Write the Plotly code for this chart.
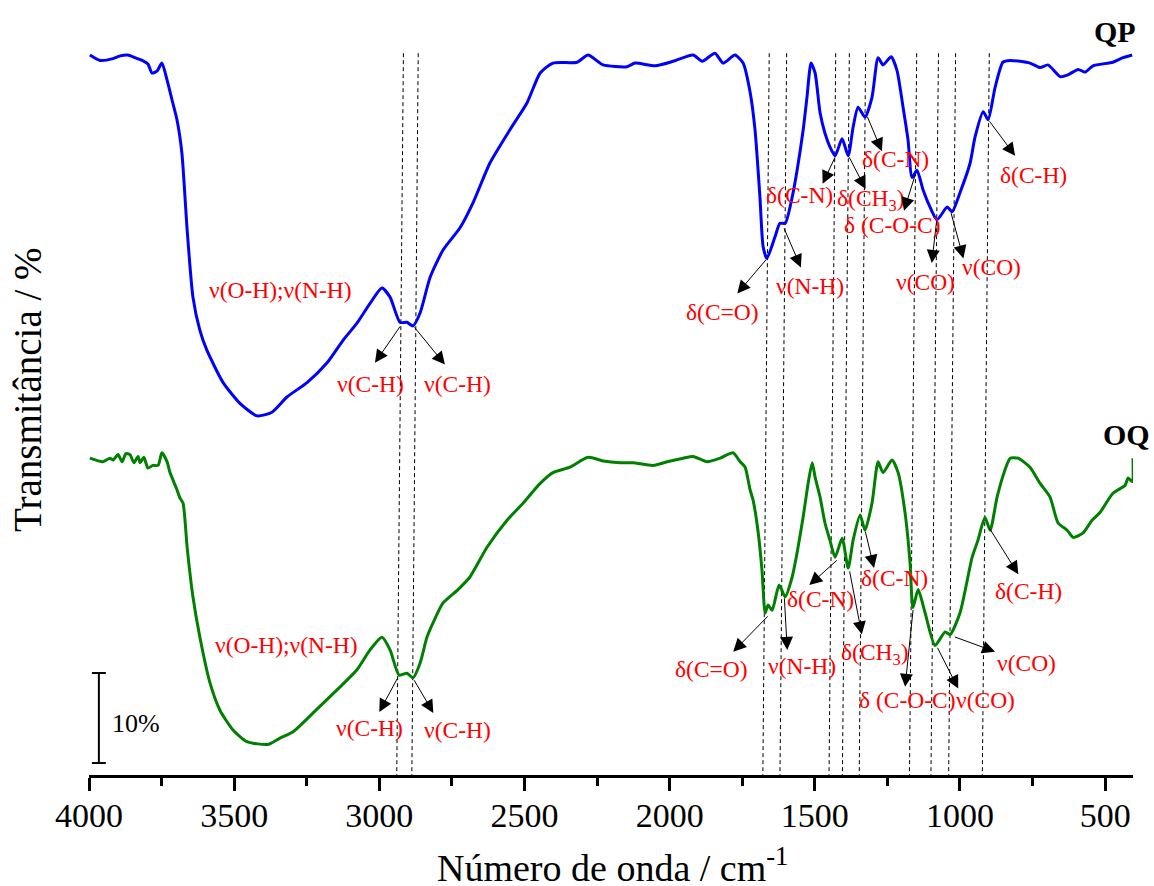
import plotly.graph_objects as go

# ---------------- data (wavenumber cm-1, transmittance % with vertical offset) -------------
qp_wn = [3997, 3962, 3917, 3893, 3866, 3842, 3817, 3797, 3783, 3766, 3749, 3731, 3714, 3697,
         3680, 3662, 3642, 3618, 3594, 3538, 3480, 3421, 3370, 3318, 3249, 3180, 3125, 3077,
         3032, 2991, 2963, 2929, 2905, 2884, 2860, 2825, 2781, 2722, 2677, 2619, 2550, 2491,
         2446, 2402, 2319, 2281, 2229, 2147, 2119, 2050, 1988, 1919, 1888, 1844, 1816, 1775,
         1747, 1723, 1706, 1689, 1678, 1665, 1637, 1620, 1602, 1578, 1561, 1540, 1527, 1513,
         1499, 1482, 1465, 1448, 1430, 1406, 1385, 1368, 1351, 1327, 1303, 1282, 1265, 1237,
         1217, 1196, 1179, 1165, 1148, 1127, 1103, 1079, 1044, 1027, 1000, 965, 948, 920, 903,
         879, 852, 827, 759, 724, 697, 655, 628, 593, 569, 542, 473, 438, 407]
qp_t = [80.0, 79.4, 79.6, 79.9, 80.0, 79.7, 79.4, 79.0, 78.0, 78.2, 79.1, 77.2, 75.0, 72.8,
        69.1, 60.6, 53.1, 49.4, 47.2, 43.6, 41.3, 39.9, 40.3, 42.0, 43.6, 45.8, 48.3, 50.2,
        52.4, 54.1, 53.1, 50.3, 50.3, 49.9, 51.3, 55.3, 58.3, 60.8, 63.6, 68.0, 71.7, 74.7,
        78.0, 79.1, 79.2, 80.0, 78.9, 78.7, 79.1, 78.8, 79.3, 80.0, 79.3, 80.2, 79.1, 80.0,
        79.1, 75.9, 71.7, 64.2, 58.7, 57.4, 59.8, 61.3, 61.3, 64.2, 67.2, 71.7, 75.3, 79.1,
        78.0, 73.6, 71.3, 69.8, 68.8, 70.7, 68.8, 72.0, 74.2, 73.1, 75.3, 79.7, 78.9, 79.8,
        78.3, 74.2, 70.6, 66.4, 67.2, 65.0, 63.1, 61.7, 63.1, 62.6, 64.7, 68.0, 70.9, 73.7, 72.8,
        76.4, 79.2, 79.4, 79.1, 78.6, 78.9, 77.6, 77.8, 78.4, 78.1, 78.8, 79.2, 79.7, 80.0]

oq_wn = [3997, 3952, 3928, 3917, 3900, 3886, 3873, 3859, 3845, 3831, 3824, 3811, 3797, 3780,
         3762, 3749, 3731, 3721, 3697, 3687, 3676, 3662, 3642, 3618, 3583, 3549, 3504, 3456,
         3383, 3342, 3297, 3228, 3135, 3077, 3032, 2991, 2963, 2932, 2905, 2884, 2860, 2836,
         2815, 2781, 2729, 2688, 2629, 2560, 2505, 2446, 2402, 2343, 2281, 2229, 2171, 2126,
         2057, 2009, 1954, 1919, 1871, 1826, 1782, 1757, 1740, 1723, 1713, 1696, 1682, 1671,
         1661, 1647, 1623, 1602, 1578, 1561, 1540, 1523, 1509, 1499, 1482, 1465, 1448, 1430,
         1406, 1385, 1368, 1344, 1327, 1303, 1282, 1265, 1234, 1213, 1189, 1172, 1162, 1144,
         1120, 1086, 1051, 1034, 1000, 958, 938, 914, 896, 872, 845, 827, 800, 759, 724, 690,
         662, 631, 610, 576, 545, 517, 473, 431, 421, 407, 404]
oq_t = [35.2, 34.8, 35.2, 35.0, 35.6, 34.8, 35.7, 35.6, 34.7, 35.4, 34.7, 35.3, 34.1, 34.4,
        34.4, 35.8, 34.8, 33.6, 31.7, 30.8, 30.2, 25.3, 19.8, 15.3, 10.2, 7.2, 5.0, 3.7,
        3.4, 4.1, 4.8, 6.9, 9.8, 11.7, 13.9, 15.3, 13.9, 11.1, 11.3, 10.8, 12.4, 15.3,
        16.9, 19.1, 20.6, 22.0, 25.3, 28.3, 30.2, 32.4, 33.6, 34.2, 35.3, 34.9, 34.7, 34.7,
        34.4, 34.8, 35.2, 35.4, 34.8, 35.2, 35.8, 34.8, 34.2, 31.7, 30.6, 27.2, 22.8, 18.0,
        18.9, 18.3, 21.1, 19.8, 22.0, 24.7, 28.7, 32.4, 34.7, 33.1, 30.9, 28.0, 26.1, 24.2,
        26.3, 23.0, 26.1, 28.9, 27.2, 30.2, 34.8, 33.6, 35.0, 33.6, 29.1, 23.6, 18.6, 20.6,
        18.0, 14.4, 15.9, 15.6, 18.0, 24.2, 26.1, 28.6, 27.2, 30.9, 33.9, 35.2, 35.2, 34.2, 32.4, 30.9,
        28.0, 27.2, 26.4, 26.9, 28.3, 29.2, 31.3, 32.2, 33.0, 32.6, 35.2]

# peak marker lines (wavenumber at top / at bottom of the plot; they lean slightly)
peak_top = [2917, 2866, 1657, 1597, 1428, 1381, 1325, 1149, 1074, 1015, 899]
peak_bot = [2940, 2888, 1679, 1620, 1451, 1405, 1347, 1174, 1100, 1039, 923]

tick_vals = [4000, 3500, 3000, 2500, 2000, 1500, 1000, 500]
minor_vals = [3750, 3250, 2750, 2250, 1750, 1250, 750]

# band labels: (text, x, y)
qp_labels = [
    ("ν(O-H);ν(N-H)", 3342, 53.9), ("ν(C-H)", 3029, 43.4), ("ν(C-H)", 2732, 43.4),
    ("δ(C=O)", 1818, 51.5), ("ν(N-H)", 1516, 54.3), ("δ(C-N)", 1554, 64.4),
    ("δ(CH<sub>3</sub>)", 1306, 63.9), ("δ(C-N)", 1222, 68.5), ("δ (C-O-C)", 1232, 61.1),
    ("ν(CO)", 1118, 54.8), ("ν(CO)", 890, 56.4), ("δ(C-H)", 748, 66.7),
]
oq_labels = [
    ("ν(O-H);ν(N-H)", 3321, 14.4), ("ν(C-H)", 3035, 5.2), ("ν(C-H)", 2731, 5.0),
    ("δ(C=O)", 1856, 11.8), ("ν(N-H)", 1544, 12.1), ("δ(C-N)", 1482, 19.6),
    ("δ(CH<sub>3</sub>)", 1294, 13.4), ("δ(C-N)", 1227, 21.9), ("δ (C-O-C)", 1182, 8.3),
    ("ν(CO)", 911, 8.3), ("ν(CO)", 772, 12.5), ("δ(C-H)", 765, 20.5),
]
# arrows: (tail x, tail y, head x, head y)
qp_arrows = [
    (2925, 50.0, 3015, 45.8), (2883, 49.9, 2774, 45.6), (1664, 57.4, 1767, 53.5),
    (1608, 60.9, 1548, 56.4), (1428, 68.8, 1473, 65.7), (1384, 68.8, 1325, 65.1),
    (1321, 73.3, 1269, 69.3), (1152, 66.9, 1193, 62.7), (1080, 61.7, 1097, 56.9),
    (1032, 62.6, 988, 57.4), (902, 72.8, 810, 68.8),
]
oq_arrows = [
    (2935, 10.9, 3000, 7.0), (2883, 10.7, 2814, 6.9), (1657, 17.8, 1781, 13.7),
    (1605, 19.8, 1595, 13.9), (1419, 24.0, 1519, 21.1), (1381, 22.8, 1338, 15.6),
    (1327, 27.2, 1296, 23.0), (1161, 18.5, 1189, 9.8), (1080, 14.3, 1006, 9.6),
    (1023, 15.4, 879, 13.7), (902, 27.6, 799, 22.3),
]
series_names = [("QP", 466, 82.6), ("OQ", 428, 37.8)]

scale_x, scale_y0, scale_len = 3966, 1.33, 10

# ---------------- figure ----------------
FONT = "Liberation Serif, Times New Roman, serif"
Y_MAX = 755 / 9.0

fig = go.Figure()
fig.add_trace(go.Scatter(x=qp_wn, y=qp_t, mode="lines",
                         line=dict(color="#0000FF", width=3, shape="spline", smoothing=0.6),
                         hoverinfo="skip", showlegend=False))
fig.add_trace(go.Scatter(x=oq_wn, y=oq_t, mode="lines",
                         line=dict(color="#008000", width=3, shape="spline", smoothing=0.6),
                         hoverinfo="skip", showlegend=False))

shapes = []
for xt, xb in zip(peak_top, peak_bot):
    shapes.append(dict(type="line", xref="x", yref="y", x0=xt, y0=80.2, x1=xb, y1=0,
                       line=dict(color="black", width=1, dash="4px,3px"), layer="below"))
# scale bar
shapes.append(dict(type="line", xref="x", yref="y", x0=scale_x, x1=scale_x,
                   y0=scale_y0, y1=scale_y0 + scale_len, line=dict(color="black", width=2)))
for yy in (scale_y0, scale_y0 + scale_len):
    shapes.append(dict(type="line", xref="x", yref="y", x0=scale_x + 24, x1=scale_x - 24,
                       y0=yy, y1=yy, line=dict(color="black", width=2)))

ann = []
for lab in (qp_labels, oq_labels):
    for t, x, y in lab:
        ann.append(dict(x=x, y=y, xref="x", yref="y", text=t, showarrow=False,
                        font=dict(family=FONT, size=23.5, color="#FF0000"),
                        xanchor="center", yanchor="middle"))
for arr in (qp_arrows, oq_arrows):
    for tx, ty, hx, hy in arr:
        ann.append(dict(x=hx, y=hy, ax=tx, ay=ty, xref="x", yref="y", axref="x", ayref="y",
                        text="", showarrow=True, arrowhead=2, arrowsize=2.6, arrowwidth=1,
                        arrowcolor="black", standoff=0, startstandoff=0))
for t, x, y in series_names:
    ann.append(dict(x=x, y=y, xref="x", yref="y", text="<b>" + t + "</b>", showarrow=False,
                    font=dict(family=FONT, size=30, color="black"), xanchor="center",
                    yanchor="middle"))
ann.append(dict(x=3928, y=scale_y0 + scale_len / 2 - 0.6, xref="x", yref="y", text="10%",
                showarrow=False, font=dict(family=FONT, size=26, color="black"),
                xanchor="left", yanchor="middle"))
# axis titles
ann.append(dict(x=(612 - 89) / 1044, y=(775 - 865) / 755, xref="paper", yref="paper",
                text="Número de onda / cm<sup>-1</sup>", showarrow=False,
                font=dict(family=FONT, size=38, color="black"),
                xanchor="center", yanchor="middle"))
ann.append(dict(x=(28 - 89) / 1044, y=(775 - 390) / 755, xref="paper", yref="paper",
                text="Transmitância / %", showarrow=False, textangle=-90,
                font=dict(family=FONT, size=39, color="black"),
                xanchor="center", yanchor="middle"))

fig.update_layout(
    width=1154, height=886,
    margin=dict(l=89, r=21, t=20, b=111),
    paper_bgcolor="white", plot_bgcolor="white",
    shapes=shapes, annotations=ann,
    xaxis=dict(range=[4000, 404], tickvals=tick_vals, ticks="outside", ticklen=13,
               tickwidth=2.5, tickcolor="black", showline=True, linewidth=2.5,
               linecolor="black", showgrid=False, zeroline=False,
               tickfont=dict(family=FONT, size=34, color="black"), ticklabelstandoff=-5,
               minor=dict(tickvals=minor_vals, ticks="outside",
                          ticklen=8, tickwidth=2.5, tickcolor="black", showgrid=False)),
    yaxis=dict(range=[0, Y_MAX], visible=False, fixedrange=True),
)

fig.write_html("out.html", config={"displayModeBar": False},
               post_script="document.body.style.margin='0px';")
